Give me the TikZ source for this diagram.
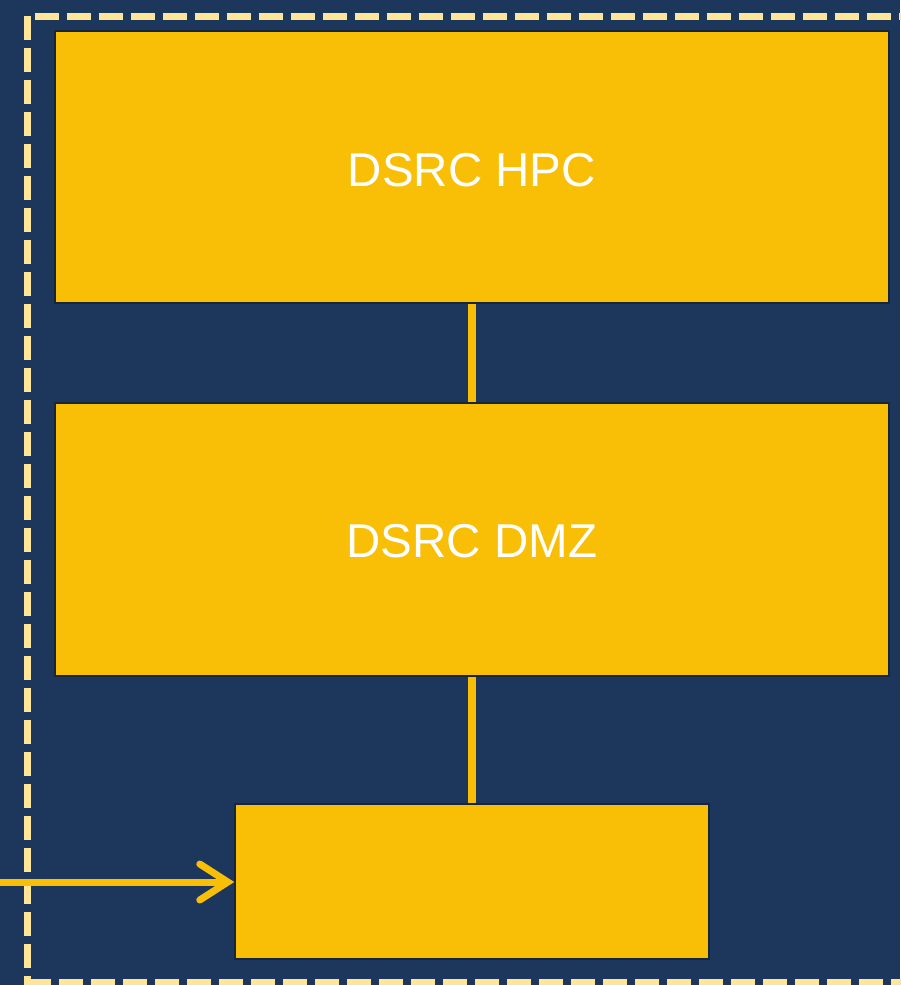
\documentclass[tikz,border=0pt]{standalone}
\usepackage{fontspec}
\setmainfont{Liberation Sans}
\usetikzlibrary{arrows.meta}
\definecolor{navy}{HTML}{1C365C}
\definecolor{gold}{HTML}{F9BF07}
\definecolor{pale}{HTML}{FFE597}
\definecolor{edge}{HTML}{16263F}
\begin{document}
\begin{tikzpicture}[x=1pt,y=-1pt,
  box/.style={draw=edge,line width=1.5pt,fill=gold,inner sep=0pt},
  lbl/.style={text=white,font=\fontsize{47.5}{52}\selectfont,inner sep=0pt},
  link/.style={draw=gold,line width=8pt}]
\fill[navy] (0,0) rectangle (900,985);
\useasboundingbox (0,0) rectangle (900,985);
\draw[pale,line width=7pt,dash pattern=on 24pt off 8pt] (27,1000) -- (27,16) -- (915,16);
\draw[pale,line width=7pt,dash pattern=on 24pt off 8pt] (27,982) -- (915,982);
\node[box,minimum width=834pt,minimum height=272pt] (hpc) at (472,167) {};
\node[box,minimum width=834pt,minimum height=273pt] (dmz) at (472,539.5) {};
\node[box,minimum width=474pt,minimum height=155pt] (gw) at (472,881.5) {};
\node[lbl] (hpct) at ([yshift=-3pt]hpc.center) {DSRC HPC};
\node[lbl] (dmzt) at ([yshift=-2pt]dmz.center) {DSRC DMZ};
\coordinate (src) at (-5,882);
\draw[link] (hpc.south) -- (dmz.north);
\draw[link] (dmz.south) -- (gw.north);
\draw[gold,line width=7pt,-{Straight Barb[length=28pt,width=36pt,line cap=round]}] (src) -- (gw.west |- src);
\end{tikzpicture}
\end{document}
